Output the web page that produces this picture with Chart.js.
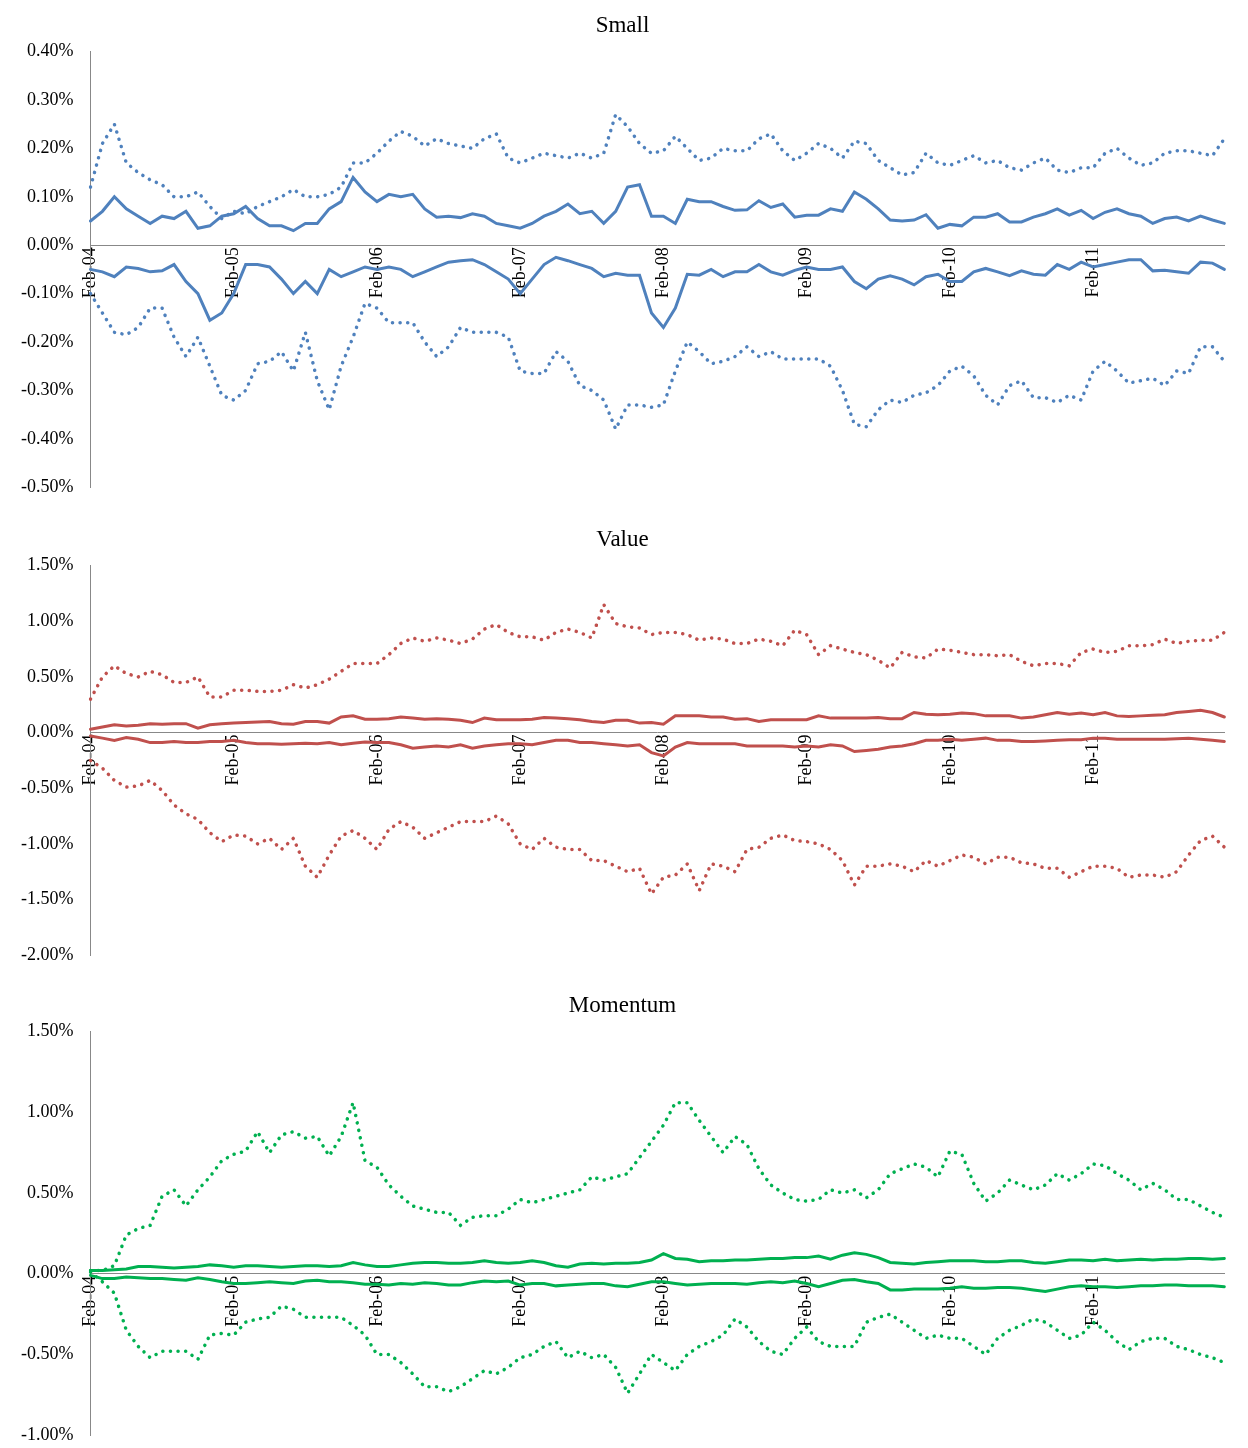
<!DOCTYPE html>
<html>
<head>
<meta charset="utf-8">
<script src="https://cdn.jsdelivr.net/npm/chart.js@4"></script>
<style>
  body { margin: 0; background: #fff; width: 1248px; height: 1448px; position: relative; overflow: hidden; }
  .box { position: absolute; left: 0; width: 1248px; }
</style>
</head>
<body>
<div class="box" style="top:8px;height:502px"><canvas id="small"></canvas></div>
<div class="box" style="top:522px;height:456px"><canvas id="value"></canvas></div>
<div class="box" style="top:988px;height:470px"><canvas id="momentum"></canvas></div>
<script>
// Months Feb-04 .. Jan-12
const monthNames = ['Jan','Feb','Mar','Apr','May','Jun','Jul','Aug','Sep','Oct','Nov','Dec'];
const months = [];
for (let i = 0; i < 96; i++) {
    const m = (1 + i) % 12;
    const y = 4 + Math.floor((1 + i) / 12);
    months.push(monthNames[m] + '-' + String(y).padStart(2, '0'));
}

// Small (values in %)
const smallUp = [
    0.05,0.07,0.10,0.075,0.06,0.045,0.06,0.055,0.07,0.035,0.04,0.06,
    0.065,0.08,0.055,0.04,0.04,0.03,0.045,0.045,0.075,0.09,0.14,0.11,
    0.09,0.105,0.10,0.105,0.075,0.058,0.06,0.057,0.065,0.06,0.045,0.04,
    0.035,0.045,0.06,0.07,0.085,0.065,0.07,0.045,0.07,0.12,0.125,0.06,
    0.06,0.045,0.095,0.09,0.09,0.08,0.072,0.073,0.092,0.078,0.085,0.058,
    0.062,0.062,0.075,0.07,0.11,0.095,0.075,0.052,0.05,0.052,0.063,0.035,
    0.043,0.04,0.058,0.058,0.065,0.048,0.048,0.058,0.065,0.075,0.062,0.072,
    0.055,0.068,0.075,0.065,0.06,0.045,0.055,0.058,0.05,0.06,0.052,0.045];
const smallDown = [
    -0.05,-0.055,-0.065,-0.045,-0.048,-0.055,-0.053,-0.04,-0.075,-0.10,-0.155,-0.14,
    -0.10,-0.04,-0.04,-0.045,-0.07,-0.10,-0.075,-0.10,-0.05,-0.065,-0.055,-0.045,
    -0.05,-0.045,-0.05,-0.065,-0.055,-0.045,-0.035,-0.032,-0.03,-0.04,-0.055,-0.07,
    -0.10,-0.07,-0.04,-0.025,-0.032,-0.04,-0.048,-0.065,-0.058,-0.062,-0.062,-0.14,
    -0.17,-0.13,-0.06,-0.062,-0.05,-0.065,-0.055,-0.055,-0.04,-0.055,-0.062,-0.052,
    -0.045,-0.05,-0.05,-0.045,-0.075,-0.09,-0.07,-0.063,-0.07,-0.082,-0.065,-0.06,
    -0.075,-0.075,-0.055,-0.048,-0.055,-0.063,-0.053,-0.06,-0.062,-0.04,-0.05,-0.035,
    -0.045,-0.04,-0.035,-0.03,-0.03,-0.053,-0.052,-0.055,-0.058,-0.035,-0.037,-0.05];
const smallHigh = [
    0.12,0.21,0.25,0.17,0.15,0.135,0.125,0.10,0.10,0.11,0.08,0.055,
    0.07,0.065,0.08,0.09,0.10,0.115,0.10,0.10,0.105,0.12,0.17,0.17,
    0.19,0.215,0.235,0.225,0.205,0.22,0.21,0.205,0.20,0.22,0.23,0.18,
    0.17,0.18,0.19,0.185,0.18,0.19,0.18,0.19,0.27,0.245,0.21,0.19,
    0.195,0.225,0.20,0.175,0.18,0.20,0.195,0.195,0.22,0.23,0.195,0.175,
    0.19,0.21,0.20,0.18,0.215,0.21,0.175,0.16,0.145,0.15,0.19,0.17,
    0.165,0.175,0.185,0.17,0.175,0.16,0.155,0.17,0.18,0.155,0.15,0.16,
    0.16,0.19,0.20,0.18,0.165,0.17,0.19,0.195,0.195,0.19,0.185,0.22];
const smallLow = [
    -0.10,-0.14,-0.18,-0.185,-0.17,-0.13,-0.13,-0.19,-0.23,-0.19,-0.25,-0.31,
    -0.32,-0.30,-0.245,-0.24,-0.22,-0.26,-0.18,-0.28,-0.34,-0.25,-0.19,-0.12,
    -0.13,-0.16,-0.16,-0.16,-0.20,-0.23,-0.21,-0.17,-0.18,-0.18,-0.18,-0.19,
    -0.26,-0.265,-0.265,-0.22,-0.24,-0.29,-0.30,-0.32,-0.38,-0.33,-0.33,-0.335,
    -0.33,-0.26,-0.20,-0.22,-0.245,-0.24,-0.23,-0.21,-0.23,-0.22,-0.235,-0.235,
    -0.235,-0.235,-0.25,-0.30,-0.37,-0.375,-0.34,-0.32,-0.325,-0.31,-0.305,-0.29,
    -0.26,-0.25,-0.27,-0.31,-0.33,-0.29,-0.28,-0.315,-0.315,-0.325,-0.31,-0.32,
    -0.26,-0.24,-0.26,-0.285,-0.28,-0.275,-0.29,-0.26,-0.265,-0.21,-0.21,-0.24];

// Value
const valueUp = [
    0.03,0.05,0.07,0.06,0.065,0.08,0.075,0.08,0.08,0.04,0.07,0.08,
    0.085,0.09,0.095,0.10,0.08,0.075,0.10,0.10,0.085,0.14,0.15,0.12,
    0.12,0.125,0.14,0.13,0.12,0.125,0.12,0.11,0.09,0.13,0.115,0.115,
    0.115,0.12,0.135,0.13,0.125,0.115,0.10,0.09,0.11,0.11,0.085,0.09,
    0.075,0.15,0.15,0.15,0.14,0.14,0.12,0.125,0.10,0.115,0.115,0.115,
    0.115,0.15,0.13,0.13,0.13,0.13,0.135,0.125,0.125,0.18,0.165,0.16,
    0.165,0.175,0.17,0.15,0.15,0.15,0.13,0.14,0.16,0.18,0.165,0.175,
    0.16,0.18,0.15,0.145,0.15,0.155,0.16,0.18,0.19,0.20,0.18,0.14];
const valueDown = [
    -0.03,-0.05,-0.07,-0.045,-0.06,-0.09,-0.09,-0.08,-0.09,-0.09,-0.08,-0.08,
    -0.07,-0.09,-0.10,-0.10,-0.105,-0.10,-0.095,-0.10,-0.09,-0.11,-0.095,-0.085,
    -0.09,-0.09,-0.11,-0.14,-0.13,-0.12,-0.13,-0.11,-0.14,-0.12,-0.11,-0.10,
    -0.10,-0.11,-0.09,-0.07,-0.07,-0.09,-0.09,-0.10,-0.11,-0.12,-0.11,-0.18,
    -0.21,-0.13,-0.09,-0.10,-0.10,-0.10,-0.10,-0.12,-0.12,-0.12,-0.12,-0.13,
    -0.12,-0.13,-0.11,-0.12,-0.17,-0.16,-0.15,-0.13,-0.12,-0.10,-0.07,-0.07,
    -0.06,-0.07,-0.06,-0.05,-0.07,-0.07,-0.08,-0.08,-0.075,-0.07,-0.065,-0.065,
    -0.05,-0.05,-0.06,-0.06,-0.06,-0.06,-0.06,-0.055,-0.05,-0.06,-0.07,-0.08];
const valueHigh = [
    0.30,0.50,0.60,0.53,0.50,0.55,0.52,0.45,0.45,0.50,0.32,0.32,
    0.38,0.38,0.37,0.37,0.38,0.43,0.40,0.43,0.48,0.55,0.62,0.62,
    0.62,0.70,0.80,0.85,0.82,0.85,0.83,0.80,0.84,0.93,0.97,0.90,
    0.86,0.86,0.83,0.90,0.93,0.90,0.85,1.15,0.98,0.95,0.94,0.88,
    0.90,0.90,0.88,0.83,0.85,0.84,0.80,0.80,0.84,0.82,0.78,0.92,
    0.88,0.70,0.78,0.75,0.72,0.70,0.65,0.58,0.72,0.68,0.67,0.75,
    0.74,0.72,0.70,0.70,0.69,0.70,0.64,0.60,0.62,0.62,0.60,0.72,
    0.75,0.72,0.73,0.78,0.78,0.79,0.84,0.80,0.82,0.83,0.83,0.90];
const valueLow = [
    -0.25,-0.32,-0.43,-0.49,-0.48,-0.43,-0.52,-0.65,-0.73,-0.78,-0.90,-0.98,
    -0.92,-0.93,-1.00,-0.95,-1.05,-0.95,-1.20,-1.30,-1.10,-0.93,-0.88,-0.95,
    -1.05,-0.87,-0.80,-0.85,-0.95,-0.90,-0.85,-0.80,-0.80,-0.80,-0.75,-0.82,
    -1.00,-1.05,-0.95,-1.03,-1.05,-1.05,-1.15,-1.15,-1.20,-1.25,-1.22,-1.45,
    -1.30,-1.28,-1.18,-1.42,-1.18,-1.20,-1.25,-1.05,-1.03,-0.95,-0.92,-0.97,
    -0.98,-1.00,-1.05,-1.15,-1.37,-1.20,-1.20,-1.18,-1.20,-1.25,-1.15,-1.20,
    -1.15,-1.10,-1.12,-1.18,-1.12,-1.12,-1.17,-1.18,-1.22,-1.22,-1.30,-1.25,
    -1.20,-1.20,-1.22,-1.30,-1.28,-1.28,-1.30,-1.25,-1.10,-0.97,-0.93,-1.03];

// Momentum
const momUp = [
    0.02,0.02,0.025,0.03,0.045,0.045,0.04,0.035,0.04,0.045,0.055,0.05,
    0.04,0.05,0.05,0.045,0.04,0.045,0.05,0.05,0.045,0.05,0.07,0.055,
    0.045,0.045,0.055,0.065,0.07,0.07,0.065,0.065,0.07,0.08,0.07,0.065,
    0.07,0.08,0.07,0.05,0.04,0.06,0.065,0.06,0.065,0.065,0.07,0.085,
    0.125,0.095,0.09,0.075,0.08,0.08,0.085,0.085,0.09,0.095,0.095,0.10,
    0.10,0.11,0.09,0.115,0.13,0.12,0.10,0.07,0.065,0.06,0.07,0.075,
    0.08,0.08,0.08,0.075,0.075,0.08,0.08,0.07,0.065,0.075,0.085,0.085,
    0.08,0.09,0.08,0.085,0.09,0.085,0.09,0.09,0.095,0.095,0.09,0.095];
const momDown = [
    -0.01,-0.03,-0.03,-0.02,-0.025,-0.03,-0.03,-0.035,-0.04,-0.025,-0.035,-0.05,
    -0.06,-0.06,-0.055,-0.05,-0.055,-0.06,-0.045,-0.04,-0.05,-0.05,-0.055,-0.065,
    -0.065,-0.07,-0.06,-0.065,-0.055,-0.06,-0.07,-0.07,-0.055,-0.045,-0.05,-0.045,
    -0.07,-0.06,-0.06,-0.075,-0.07,-0.065,-0.06,-0.06,-0.075,-0.08,-0.065,-0.05,
    -0.05,-0.06,-0.07,-0.065,-0.06,-0.06,-0.06,-0.065,-0.055,-0.05,-0.055,-0.045,
    -0.06,-0.08,-0.06,-0.04,-0.035,-0.05,-0.06,-0.10,-0.10,-0.095,-0.095,-0.095,
    -0.09,-0.08,-0.09,-0.09,-0.085,-0.085,-0.09,-0.10,-0.11,-0.095,-0.08,-0.075,
    -0.08,-0.08,-0.085,-0.08,-0.075,-0.075,-0.07,-0.07,-0.075,-0.075,-0.075,-0.08];
const momHigh = [
    0.02,0.02,0.05,0.24,0.28,0.30,0.48,0.52,0.42,0.52,0.60,0.70,
    0.74,0.76,0.88,0.75,0.86,0.88,0.84,0.85,0.73,0.85,1.06,0.70,
    0.66,0.55,0.48,0.42,0.40,0.38,0.38,0.30,0.35,0.36,0.36,0.40,
    0.46,0.44,0.46,0.48,0.50,0.52,0.60,0.58,0.60,0.62,0.72,0.82,
    0.92,1.06,1.06,0.95,0.85,0.75,0.85,0.80,0.65,0.55,0.50,0.46,
    0.45,0.46,0.52,0.50,0.52,0.47,0.52,0.62,0.65,0.68,0.66,0.60,
    0.76,0.74,0.56,0.45,0.50,0.58,0.55,0.52,0.55,0.62,0.58,0.62,
    0.68,0.67,0.62,0.58,0.52,0.56,0.52,0.46,0.46,0.42,0.38,0.35];
const momLow = [
    0.01,-0.05,-0.12,-0.35,-0.45,-0.52,-0.48,-0.48,-0.48,-0.53,-0.38,-0.37,
    -0.38,-0.30,-0.28,-0.27,-0.20,-0.22,-0.27,-0.27,-0.27,-0.27,-0.32,-0.38,
    -0.50,-0.50,-0.55,-0.62,-0.70,-0.70,-0.73,-0.70,-0.65,-0.60,-0.62,-0.58,
    -0.52,-0.50,-0.45,-0.42,-0.52,-0.48,-0.52,-0.50,-0.58,-0.74,-0.62,-0.50,
    -0.55,-0.60,-0.50,-0.45,-0.42,-0.38,-0.28,-0.33,-0.42,-0.48,-0.50,-0.40,
    -0.33,-0.42,-0.45,-0.45,-0.45,-0.30,-0.27,-0.25,-0.30,-0.35,-0.40,-0.38,
    -0.40,-0.40,-0.45,-0.50,-0.40,-0.35,-0.32,-0.28,-0.30,-0.35,-0.40,-0.38,
    -0.30,-0.35,-0.42,-0.47,-0.42,-0.40,-0.40,-0.45,-0.47,-0.50,-0.52,-0.55];

const FONT = "'Liberation Serif', 'Times New Roman', serif";

function line(data, color, dotted) {
    return {
        data: data,
        borderColor: color,
        borderWidth: dotted ? 3.5 : 3,
        borderDash: dotted ? [0.1, 7.5] : [],
        borderCapStyle: 'round',
        pointRadius: 0,
        tension: 0,
        fill: false
    };
}

function makeChart(id, title, color, series, yMin, yMax, yStep) {
    new Chart(document.getElementById(id), {
        type: 'line',
        data: {
            labels: months,
            datasets: [
                line(series[0], color, false),
                line(series[1], color, false),
                line(series[2], color, true),
                line(series[3], color, true)
            ]
        },
        options: {
            responsive: true,
            maintainAspectRatio: false,
            animation: false,
            layout: { padding: { right: 12, left: 9 } },
            plugins: {
                legend: { display: false },
                tooltip: { enabled: false },
                title: {
                    display: true,
                    text: title,
                    color: '#000',
                    font: { family: FONT, size: 23, weight: 'normal' },
                    padding: { top: 4, bottom: 12 }
                }
            },
            scales: {
                x: {
                    position: { y: 0 },
                    offset: false,
                    grid: { display: false, drawTicks: false },
                    border: { color: '#888', width: 1 },
                    ticks: {
                        autoSkip: false,
                        minRotation: 90,
                        maxRotation: 90,
                        padding: 2,
                        color: '#000',
                        font: { family: FONT, size: 18 },
                        callback: function(v, i) { return i % 12 === 0 ? months[i] : ''; }
                    }
                },
                y: {
                    min: yMin,
                    max: yMax,
                    grid: { display: false, drawTicks: true, tickLength: 5, tickColor: '#888' },
                    border: { color: '#888', width: 1 },
                    ticks: {
                        stepSize: yStep,
                        padding: 12,
                        color: '#000',
                        font: { family: FONT, size: 18 },
                        callback: function(v) { return v.toFixed(2) + '%'; }
                    }
                }
            }
        }
    });
}

makeChart('small', 'Small', '#4F81BD', [smallUp, smallDown, smallHigh, smallLow], -0.5, 0.4, 0.1);
makeChart('value', 'Value', '#C0504D', [valueUp, valueDown, valueHigh, valueLow], -2.0, 1.5, 0.5);
makeChart('momentum', 'Momentum', '#00B050', [momUp, momDown, momHigh, momLow], -1.0, 1.5, 0.5);
</script>
</body>
</html>
